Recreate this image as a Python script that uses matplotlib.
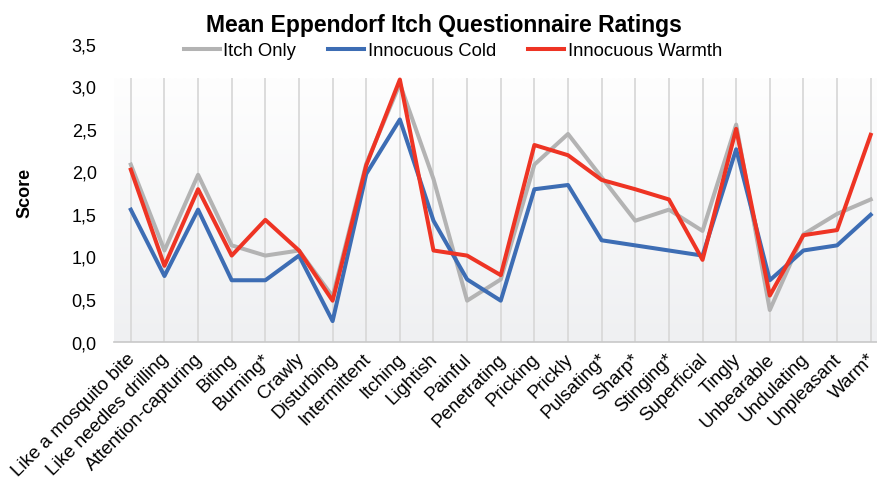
import numpy as np
import matplotlib
matplotlib.use("Agg")
import matplotlib.pyplot as plt
import matplotlib.transforms as mtransforms
from matplotlib.colors import LinearSegmentedColormap

plt.rcParams['font.family'] = ['Liberation Sans', 'DejaVu Sans']

categories = ["Like a mosquito bite", "Like needles drilling", "Attention-capturing",
              "Biting", "Burning*", "Crawly", "Disturbing", "Intermittent", "Itching",
              "Lightish", "Painful", "Penetrating", "Pricking", "Prickly", "Pulsating*",
              "Sharp*", "Stinging*", "Superficial", "Tingly", "Unbearable", "Undulating",
              "Unpleasant", "Warm*"]

itch_only = [2.08, 1.07, 1.96, 1.13, 1.01, 1.07, 0.53, 2.09, 3.03, 1.91, 0.48, 0.73,
             2.08, 2.44, 1.93, 1.42, 1.55, 1.30, 2.55, 0.37, 1.26, 1.50, 1.67]
innocuous_cold = [1.55, 0.77, 1.55, 0.72, 0.72, 1.01, 0.24, 1.97, 2.61, 1.42, 0.73, 0.48,
                  1.79, 1.84, 1.19, 1.13, 1.07, 1.01, 2.26, 0.72, 1.07, 1.13, 1.49]
innocuous_warmth = [2.02, 0.89, 1.79, 1.01, 1.43, 1.07, 0.48, 2.07, 3.08, 1.07, 1.01, 0.78,
                    2.31, 2.19, 1.90, 1.79, 1.67, 0.96, 2.50, 0.54, 1.25, 1.31, 2.43]

yticks = [0.0, 0.5, 1.0, 1.5, 2.0, 2.5, 3.0, 3.5]
ytick_labels = ["0,0", "0,5", "1,0", "1,5", "2,0", "2,5", "3,0", "3,5"]

W, H = 877, 485
fig = plt.figure(figsize=(W / 100, H / 100), dpi=100)
left = 114 / W
right = 887.5 / W
bottom = 1 - 342.5 / H
top = 1 - 44.8 / H
ax = fig.add_axes([left, bottom, right - left, top - bottom])

n = len(categories)
x = np.arange(n)
ax.set_xlim(-0.5, n - 0.5)
ax.set_ylim(0, 3.5)

# background gradient (plot area up to ~3.1)
grad_top = 3.1
cmap = LinearSegmentedColormap.from_list("bg", ["#eff0f2", "#fefefe"])
grad = np.linspace(0, 1, 256).reshape(-1, 1)
ax.imshow(grad, cmap=cmap, aspect='auto', origin='lower',
          extent=(-0.5, n - 0.5, 0, grad_top), zorder=0)

ax.vlines(x, 0, grad_top, colors="#d9d9d9", linewidth=1.3, zorder=1)

lw = 2.9
ax.plot(x, itch_only, color="#b3b3b3", lw=lw, label="Itch Only", zorder=3)
ax.plot(x, innocuous_cold, color="#3d6db4", lw=lw, label="Innocuous Cold", zorder=4)
ax.plot(x, innocuous_warmth, color="#ee3424", lw=lw, label="Innocuous Warmth", zorder=5)

for s in ["top", "right", "left"]:
    ax.spines[s].set_visible(False)
ax.spines["bottom"].set_color("#c8c8c8")
ax.spines["bottom"].set_linewidth(1.2)

ax.set_yticks(yticks)
ax.set_yticklabels(ytick_labels, fontsize=13)
ax.tick_params(axis='y', length=0, pad=12.5)
ax.set_xticks(x)
ax.set_xticklabels(categories, rotation=45, ha='right', va='top',
                   rotation_mode='anchor', fontsize=13.5)
ax.tick_params(axis='x', length=0, pad=6)
offset = mtransforms.ScaledTranslation(-4 / 100, 0, fig.dpi_scale_trans)
for lbl in ax.get_xticklabels():
    lbl.set_transform(lbl.get_transform() + offset)

fig.text(25 / W, 1 - 193 / H, "Score", rotation=90, fontsize=13, fontweight='bold',
         ha='center', va='center')
fig.text(444 / W, 1 - 32 / H, "Mean Eppendorf Itch Questionnaire Ratings",
         fontsize=16.5, fontweight='bold', ha='center', va='baseline')

leg = fig.legend(loc='center', bbox_to_anchor=(453 / W, 1 - 52 / H), ncol=3,
                 frameon=False, fontsize=13.3, handlelength=1.95, handletextpad=0.2,
                 columnspacing=1.73, borderaxespad=0)

fig.savefig("out.png", dpi=100)
